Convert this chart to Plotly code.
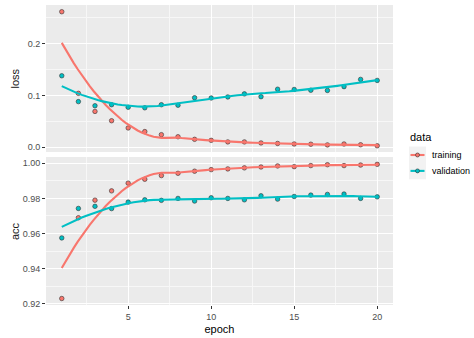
import numpy as np
import plotly.graph_objects as go

epoch = list(range(1, 21))
loss_training = [0.262, 0.104, 0.069, 0.051, 0.037, 0.030, 0.024, 0.020, 0.015, 0.013,
                 0.010, 0.010, 0.008, 0.007, 0.006, 0.0055, 0.0042, 0.006, 0.0045, 0.0025]
loss_validation = [0.138, 0.088, 0.080, 0.082, 0.077, 0.076, 0.082, 0.081, 0.0955, 0.095,
                   0.097, 0.103, 0.0975, 0.112, 0.1115, 0.110, 0.1096, 0.117, 0.131, 0.129]
acc_training = [0.923, 0.969, 0.979, 0.9843, 0.9887, 0.9909, 0.993, 0.9943, 0.9955, 0.9964,
                0.9968, 0.9974, 0.9979, 0.9985, 0.9981, 0.9987, 0.9992, 0.9987, 0.999, 0.9994]
acc_validation = [0.9575, 0.9743, 0.9755, 0.9742, 0.9779, 0.9792, 0.9789, 0.980, 0.9785, 0.9804,
                  0.980, 0.9792, 0.9815, 0.9796, 0.9811, 0.9819, 0.9823, 0.9825, 0.980, 0.9809]
series_names = ["training", "validation"]
metric_names = ["loss", "acc"]

COLORS = {"training": "#F8766D", "validation": "#00BFC4"}
OUTLINE = "#333333"


def loess(x, y, xs, span=0.75):
    x = np.asarray(x, float)
    y = np.asarray(y, float)
    n = len(x)
    q = int(np.floor(n * span))
    out = []
    for x0 in xs:
        d = np.abs(x - x0)
        dmax = np.sort(d)[q - 1]
        w = np.clip(1 - (d / dmax) ** 3, 0, None) ** 3
        X = np.vstack([np.ones(n), x - x0, (x - x0) ** 2]).T
        W = np.diag(w)
        beta = np.linalg.lstsq(X.T @ W @ X, X.T @ W @ y, rcond=None)[0]
        out.append(beta[0])
    return np.array(out)


xs = np.linspace(min(epoch), max(epoch), 80)
fig = go.Figure()

data = {
    ("loss", "training"): loss_training,
    ("loss", "validation"): loss_validation,
    ("acc", "training"): acc_training,
    ("acc", "validation"): acc_validation,
}

for metric, ax in [("loss", "y"), ("acc", "y2")]:
    for s in series_names:
        yv = data[(metric, s)]
        fig.add_trace(go.Scatter(
            x=epoch, y=yv, mode="markers", xaxis="x" if ax == "y" else "x2", yaxis=ax,
            marker=dict(size=4.5, color=COLORS[s], line=dict(color=OUTLINE, width=0.6)),
            showlegend=False, hoverinfo="skip"))
    for s in series_names:
        yv = data[(metric, s)]
        fig.add_trace(go.Scatter(
            x=xs, y=loess(epoch, yv, xs), mode="lines", xaxis="x" if ax == "y" else "x2", yaxis=ax,
            line=dict(color=COLORS[s], width=2.1), showlegend=False, hoverinfo="skip"))

grid_major = dict(showgrid=True, gridcolor="white", gridwidth=1.1)
tickstyle = dict(ticks="outside", ticklen=3, tickcolor="#333333", tickwidth=1,
                 tickfont=dict(family="Liberation Sans, Arial", size=9, color="#4D4D4D"))
minor_x = dict(dtick=2.5, tick0=2.5, showgrid=True, gridcolor="#F7F7F7", gridwidth=0.55, ticks="")

xr = [0.05, 20.95]
fig.update_layout(
    width=474, height=338,
    margin=dict(l=46, r=81, t=5, b=31),
    paper_bgcolor="white", plot_bgcolor="#EBEBEB",
    font=dict(family="Liberation Sans, Arial", color="#4D4D4D"),
    xaxis=dict(domain=[0, 1], range=xr, anchor="y", showticklabels=False, ticks="",
               tickvals=[5, 10, 15, 20], zeroline=False, minor=minor_x, **grid_major),
    xaxis2=dict(domain=[0, 1], range=xr, anchor="y2", tickvals=[5, 10, 15, 20], zeroline=False,
                minor=minor_x,
                title=dict(text="epoch", font=dict(family="Liberation Sans, Arial", size=11, color="black"),
                           standoff=4),
                **grid_major, **tickstyle),
    yaxis=dict(domain=[0.5099, 1], range=[-0.0096, 0.275], tickvals=[0.0, 0.1, 0.2],
               ticktext=["0.0", "0.1", "0.2"], zeroline=False,
               minor=dict(tickvals=[0.05, 0.15, 0.25], showgrid=True, gridcolor="#F7F7F7",
                          gridwidth=0.55, ticks=""),
               **grid_major, **tickstyle),
    yaxis2=dict(domain=[0, 0.4934], range=[0.9193, 1.0036],
                tickvals=[0.92, 0.94, 0.96, 0.98, 1.00],
                ticktext=["0.92", "0.94", "0.96", "0.98", "1.00"], zeroline=False,
                minor=dict(tickvals=[0.93, 0.95, 0.97, 0.99], showgrid=True, gridcolor="#F7F7F7",
                           gridwidth=0.55, ticks=""),
                **grid_major, **tickstyle),
)

# facet strip labels (switched to the left)
for label, yc in [("loss", 79), ("acc", 232.5)]:
    fig.add_annotation(text=label, xref="paper", yref="paper",
                       x=(15 - 46) / 347, y=(307 - yc) / 302, showarrow=False, textangle=-90,
                       font=dict(family="Liberation Sans, Arial", size=11, color="#1A1A1A"),
                       xanchor="center", yanchor="middle")

# legend
def px_x(px):
    return (px - 46) / 347


def px_y(py):
    return (307 - py) / 302


fig.add_annotation(text="data", xref="paper", yref="paper", x=px_x(408), y=px_y(138),
                   showarrow=False, xanchor="left", yanchor="middle",
                   font=dict(family="Liberation Sans, Arial", size=11, color="black"))
for s, yc in [("training", 156), ("validation", 172)]:
    fig.add_shape(type="rect", xref="paper", yref="paper",
                  x0=px_x(409), x1=px_x(426), y0=px_y(yc - 8.5), y1=px_y(yc + 8.5),
                  fillcolor="#F2F2F2", line=dict(width=0), layer="above")
    fig.add_shape(type="line", xref="paper", yref="paper",
                  x0=px_x(410.5), x1=px_x(424.5), y0=px_y(yc), y1=px_y(yc),
                  line=dict(color=COLORS[s], width=2.1), layer="above")
    fig.add_shape(type="circle", xref="paper", yref="paper",
                  x0=px_x(415.5), x1=px_x(419.5), y0=px_y(yc - 2), y1=px_y(yc + 2),
                  fillcolor=COLORS[s], line=dict(color=OUTLINE, width=0.6), layer="above")
    fig.add_annotation(text=s, xref="paper", yref="paper", x=px_x(430), y=px_y(yc),
                       showarrow=False, xanchor="left", yanchor="middle",
                       font=dict(family="Liberation Sans, Arial", size=9, color="black"))

fig.write_html("out.html")
